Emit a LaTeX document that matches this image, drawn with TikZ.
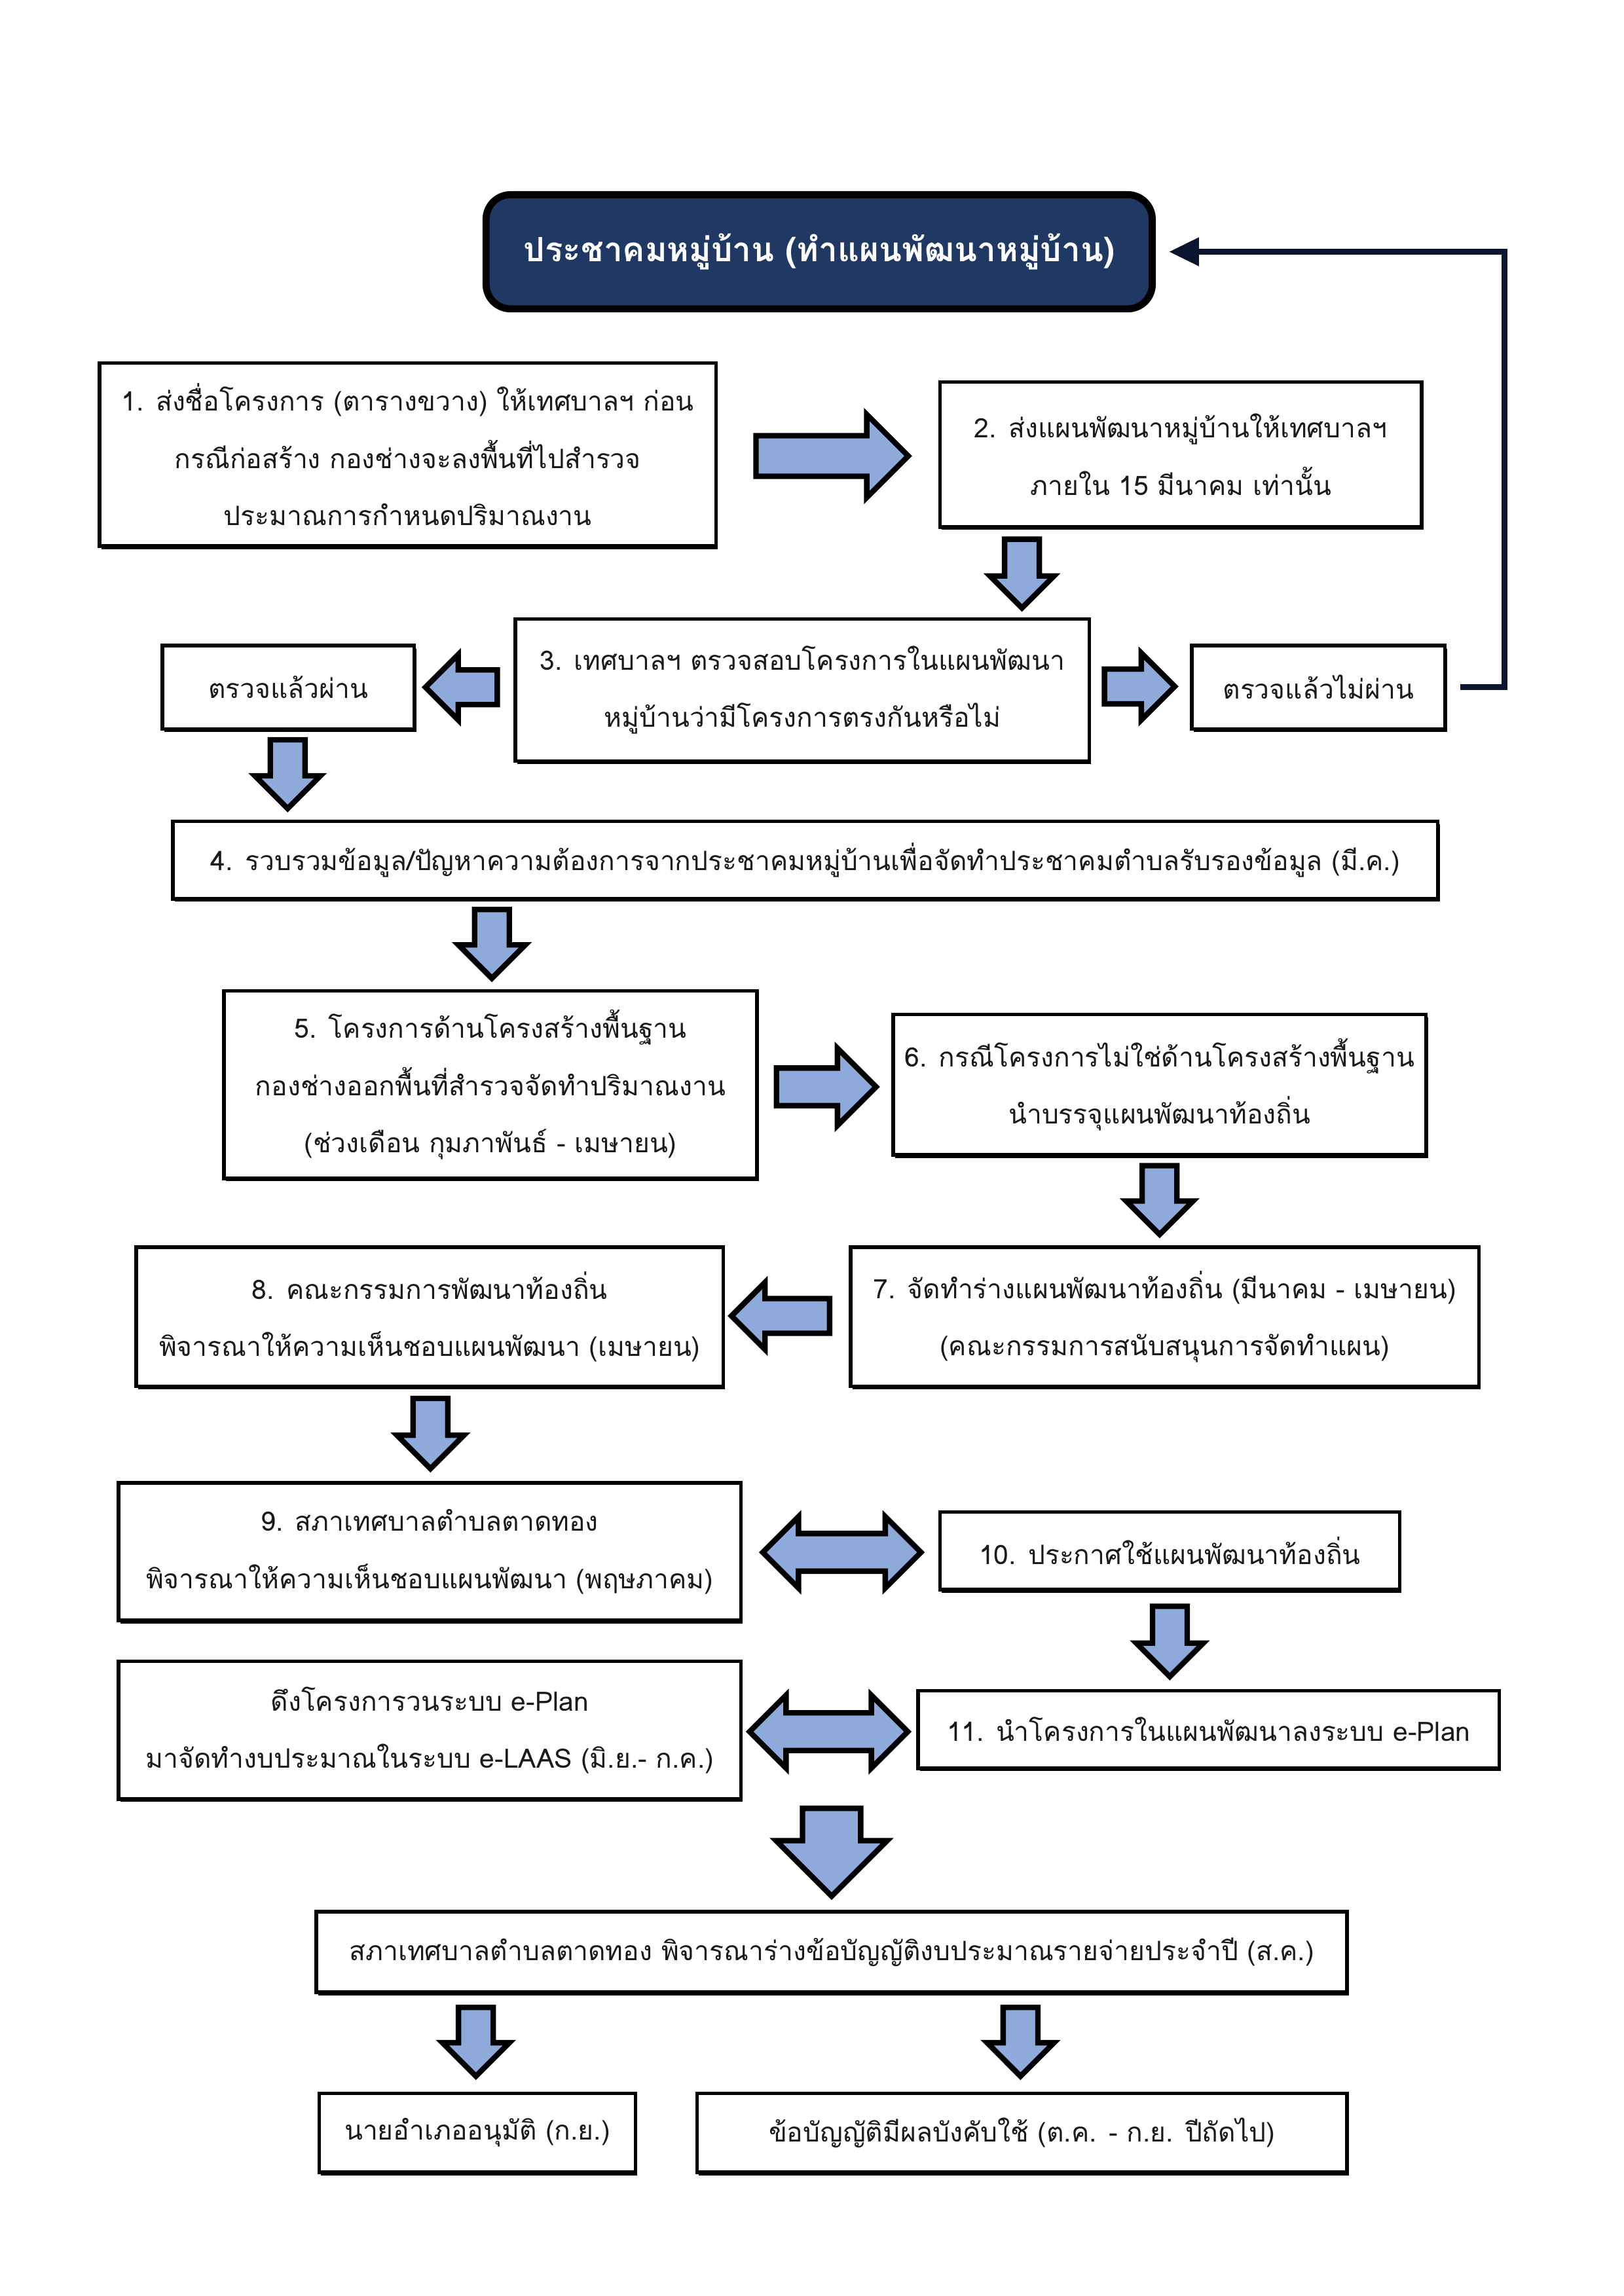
\documentclass[tikz,border=0pt]{standalone}
\usepackage{fontspec}
\newfontfamily\thaifont[Script=Thai]{Loma}
\usetikzlibrary{shapes.arrows,arrows.meta,shadows}
\definecolor{ablue}{HTML}{8EAADB}
\definecolor{navy}{HTML}{203864}
\definecolor{fbline}{HTML}{0B1530}
\definecolor{txt}{HTML}{1A1A1A}
\newcommand\U{0.5369pt}
\newcommand\bx[6]{\node[box,minimum width=#4*\U,minimum height=#5*\U] (#1) at (#2,#3) {#6};}
% single block arrow placed by its tip
\newcommand\sa[7]{\node[barrow,anchor=tip,rotate=#4,minimum height=#5*\U,minimum width=#6*\U,inner ysep=#7*0.5*\U,single arrow head extend={(#6-#7)*0.5*\U}] (#1) at (#2,#3) {};}
\newcommand\da[6]{\node[darrow,minimum height=#4*\U,minimum width=#5*\U,inner ysep=#6*0.5*\U,double arrow head extend={(#5-#6)*0.5*\U}] (#1) at (#2,#3) {};}
\begin{document}
\begin{tikzpicture}[x=\U,y=-\U,
  box/.style={draw=black,line width=1.3pt,fill=white,align=center,inner sep=0pt,text=txt,
    font=\thaifont\fontsize{9.8}{21}\selectfont,
    drop shadow={shadow xshift=0.7pt,shadow yshift=-1.1pt,fill=black,opacity=1}},
  barrow/.style={single arrow,draw=black,line width=2pt,fill=ablue,inner xsep=0pt,single arrow tip angle=90},
  darrow/.style={double arrow,draw=black,line width=2pt,fill=ablue,inner xsep=0pt,double arrow tip angle=90},
  fb/.style={draw=fbline,line width=2.2pt,-{Triangle[length=11pt,width=10pt]}}]
\useasboundingbox (0,0) rectangle (1108.87,1568.55);
\fill[white] (0,0) rectangle (1108.87,1568.55);

\node[draw=black,line width=2.6pt,fill=navy,rounded corners=9pt,minimum width=455*\U,minimum height=78*\U,
  font=\thaifont\bfseries\fontsize{12.3}{15}\selectfont,text=white] (title) at (559.5,172)
  {ประชาคมหมู่บ้าน (ทำแผนพัฒนาหมู่บ้าน)};

\bx{b1}{278.5}{310.5}{421}{125}{1. ส่งชื่อโครงการ (ตารางขวาง) ให้เทศบาลฯ ก่อน\\กรณีก่อสร้าง กองช่างจะลงพื้นที่ไปสำรวจ\\ประมาณการกำหนดปริมาณงาน}
\bx{b2}{806.5}{310.5}{329}{99}{2. ส่งแผนพัฒนาหมู่บ้านให้เทศบาลฯ\\ภายใน 15 มีนาคม เท่านั้น}
\bx{b3}{548}{471.5}{392}{97}{3. เทศบาลฯ ตรวจสอบโครงการในแผนพัฒนา\\หมู่บ้านว่ามีโครงการตรงกันหรือไม่}
\bx{pass}{197}{469.5}{172}{57}{ตรวจแล้วผ่าน}
\bx{fail}{900.5}{469.5}{173}{57}{ตรวจแล้วไม่ผ่าน}
\bx{b4}{550}{587.5}{864}{53}{4. รวบรวมข้อมูล/ปัญหาความต้องการจากประชาคมหมู่บ้านเพื่อจัดทำประชาคมตำบลรับรองข้อมูล (มี.ค.)}
\bx{b5}{335}{741}{364}{128}{5. โครงการด้านโครงสร้างพื้นฐาน\\กองช่างออกพื้นที่สำรวจจัดทำปริมาณงาน\\(ช่วงเดือน กุมภาพันธ์ - เมษายน)}
\bx{b6}{792}{741}{364}{96}{6. กรณีโครงการไม่ใช่ด้านโครงสร้างพื้นฐาน\\นำบรรจุแผนพัฒนาท้องถิ่น}
\bx{b8}{293.5}{899.5}{401}{95}{8. คณะกรรมการพัฒนาท้องถิ่น\\พิจารณาให้ความเห็นชอบแผนพัฒนา (เมษายน)}
\bx{b7}{795.5}{899.5}{429}{95}{7. จัดทำร่างแผนพัฒนาท้องถิ่น (มีนาคม - เมษายน)\\(คณะกรรมการสนับสนุนการจัดทำแผน)}
\bx{b9}{293.5}{1060}{425}{94}{9. สภาเทศบาลตำบลตาดทอง\\พิจารณาให้ความเห็นชอบแผนพัฒนา (พฤษภาคม)}
\bx{b10}{799}{1059.5}{314}{53}{10. ประกาศใช้แผนพัฒนาท้องถิ่น}
\bx{b12}{293.5}{1182}{425}{94}{ดึงโครงการวนระบบ e-Plan\\มาจัดทำงบประมาณในระบบ e-LAAS (มิ.ย.- ก.ค.)}
\bx{b11}{825.5}{1181.5}{397}{53}{11. นำโครงการในแผนพัฒนาลงระบบ e-Plan}
\bx{b13}{568}{1333.5}{704}{55}{สภาเทศบาลตำบลตาดทอง พิจารณาร่างข้อบัญญัติงบประมาณรายจ่ายประจำปี (ส.ค.)}
\bx{b14}{326}{1457}{216}{54}{นายอำเภออนุมัติ (ก.ย.)}
\bx{b15}{698}{1457}{444}{54}{ข้อบัญญัติมีผลบังคับใช้ (ต.ค. - ก.ย. ปีถัดไป)}

\sa{a12}{623}{311.5}{0}{104}{53}{24}
\sa{a23}{698}{418}{-90}{47}{40}{20}
\sa{a3p}{288}{469.5}{180}{49}{41}{20}
\sa{a3f}{805}{469}{0}{48}{42}{20}
\sa{ap4}{196.5}{555}{-90}{47}{41}{20}
\sa{a45}{336}{671}{-90}{47}{42}{20}
\sa{a56}{601}{742.5}{0}{68}{49}{22}
\sa{a67}{792}{846}{-90}{47}{42}{20}
\sa{a78}{497}{899}{180}{67}{42}{20}
\sa{a89}{294}{1006}{-90}{48}{42}{20}
\da{d910}{575}{1060.5}{108}{45}{22}
\sa{a1011}{799}{1148}{-90}{48}{42}{20}
\da{d1211}{566}{1183}{108}{46}{22}
\sa{abig}{568}{1298}{-90}{60}{72}{36}
\sa{a1314}{325}{1421}{-90}{47}{42}{20}
\sa{a1315}{697}{1421}{-90}{47}{42}{20}

\coordinate (fbs) at ([xshift=9*\U]fail.east);
\draw[fb] (fbs) -| ([xshift=238*\U]title.east) -- ([xshift=9*\U]title.east);
\end{tikzpicture}
\end{document}
